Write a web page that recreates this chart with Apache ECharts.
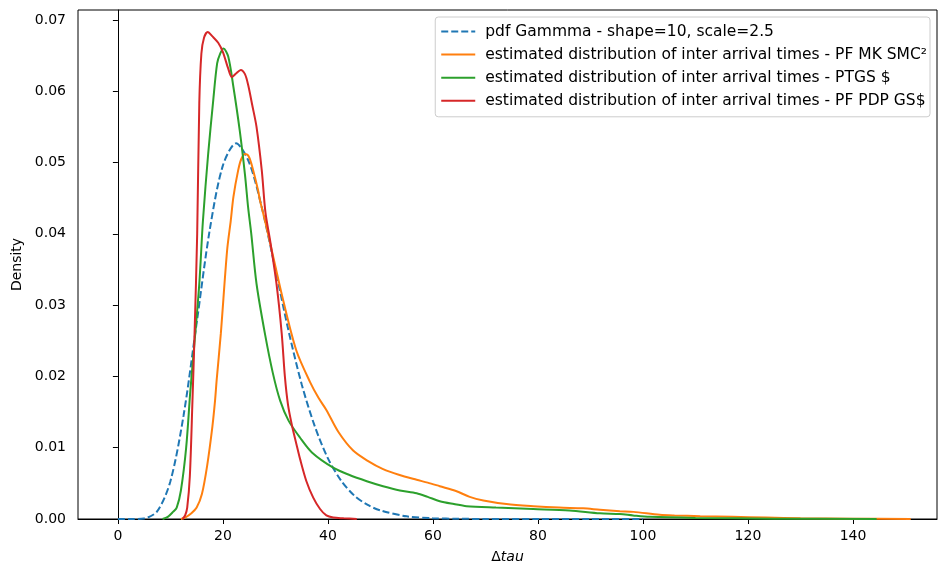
<!DOCTYPE html>
<html>
<head>
<meta charset="utf-8">
<script src="https://cdn.jsdelivr.net/npm/echarts@6/dist/echarts.min.js"></script>
<style>html,body{margin:0;padding:0;background:#fff}#c{width:938px;height:563px}</style>
</head>
<body>
<div id="c"></div>
<script>
const xTicks = [0, 20, 40, 60, 80, 100, 120, 140];
const yTicks = [0, 0.01, 0.02, 0.03, 0.04, 0.05, 0.06, 0.07];
const seriesNames = [
  'pdf Gammma - shape=10, scale=2.5',
  'estimated distribution of inter arrival times - PF MK SMC²',
  'estimated distribution of inter arrival times - PTGS $',
  'estimated distribution of inter arrival times - PF PDP GS$'
];
const gammaPdf = [[0,0],[2.5,0],[5,0.00008],[7.5,0.0011],[10,0.0053],[12.5,0.0145],[15,0.0275],[17.5,0.0406],[20,0.0496],[22.5,0.0527],[25,0.0500],[27.5,0.0434],[30,0.0350],[32.5,0.0264],[35,0.0189],[37.5,0.0130],[40,0.0085],[42.5,0.0054],[45,0.0033],[47.5,0.0020],[50,0.0012],[55,0.00037],[60,0.00011],[65,0.00003],[70,0.00001],[80,0],[90,0],[100,0]];
const pfMkSmc = [[12,0],[12.8,0.0002],[14,0.0008],[15,0.0016],[16,0.0035],[17,0.0075],[18,0.013],[18.5,0.0166],[18.8,0.0194],[19.6,0.026],[20.8,0.0377],[21.5,0.0419],[22.0,0.0452],[22.9,0.0489],[23.5,0.0505],[24.2,0.0512],[24.8,0.0510],[25.4,0.0499],[26.7,0.0461],[27.0,0.0449],[28,0.0419],[29.3,0.0377],[31.5,0.0306],[34,0.0236],[36.6,0.0192],[38.2,0.0170],[39.7,0.0153],[42,0.0122],[44.8,0.0096],[47.5,0.0082],[50.5,0.0070],[53.5,0.0062],[56.9,0.0055],[59,0.0051],[61.3,0.0046],[64.5,0.0039],[67,0.0031],[69.6,0.0026],[74,0.0021],[79.1,0.0018],[84,0.0016],[88.6,0.0015],[91.8,0.0013],[95.6,0.0011],[98.2,0.0010],[103.2,0.0006],[106,0.0005],[110.9,0.0004],[117,0.0003],[123.5,0.0002],[130,0.0001],[140,0.00005],[151,0]];
const ptgs = [[8.5,0],[9.5,0.0003],[10.5,0.001],[11.2,0.0016],[12,0.004],[13,0.010],[13.8,0.018],[14.5,0.024],[15.5,0.033],[16.2,0.0419],[17.2,0.0513],[18.1,0.0583],[18.9,0.0639],[19.5,0.0653],[20.1,0.0660],[21.0,0.0649],[22.0,0.0606],[23.2,0.0545],[24.2,0.0483],[24.8,0.0437],[25.4,0.0400],[26.4,0.0330],[28,0.0260],[29.5,0.0205],[30.9,0.0166],[32.5,0.0138],[34.7,0.0114],[37,0.0093],[41,0.0072],[44,0.0062],[47.4,0.0053],[50.5,0.0046],[53.7,0.0040],[56.9,0.0036],[59,0.0031],[61.3,0.0025],[64,0.0021],[66.4,0.0018],[72,0.0016],[79.1,0.0014],[86,0.0012],[91.8,0.0008],[95.6,0.0007],[98.1,0.0005],[101.3,0.0003],[110,0.00015],[125,0.00005],[144.5,0]];
const pfPdpGs = [[12.3,0],[12.8,0.0005],[13.2,0.0016],[13.7,0.006],[14.2,0.0166],[14.6,0.026],[15.1,0.040],[15.5,0.0583],[15.9,0.0653],[16.4,0.0675],[17.1,0.0683],[18,0.0677],[19.1,0.0668],[20,0.0655],[21,0.0632],[21.7,0.0620],[22.5,0.0625],[23.4,0.0630],[24.2,0.0624],[24.8,0.0609],[25.6,0.0580],[26.4,0.0550],[27.4,0.0489],[28.1,0.0430],[29.0,0.0390],[30.2,0.0330],[31.2,0.0260],[31.8,0.0200],[32.4,0.0160],[33.1,0.0133],[34.0,0.0105],[34.7,0.0084],[35.9,0.0053],[37.2,0.0030],[38.5,0.0014],[39.7,0.0005],[41,0.0002],[43,0.0001],[45.5,0]];
const colors = ['#1f77b4', '#ff7f0e', '#2ca02c', '#d62728'];

const chart = echarts.init(document.getElementById('c'), null, {renderer: 'canvas'});
const font = 'DejaVu Sans';
const fs = 14;
function mk(name, data, color, dashed) {
  return {
    name: name, type: 'line', data: data, smooth: 0.3, symbol: 'none', showSymbol: false,
    lineStyle: {color: color, width: 2, type: dashed ? [7, 3] : 'solid'},
    itemStyle: {color: color}, animation: false, z: 3
  };
}
chart.setOption({
  animation: false,
  grid: {left: 78, right: 1, top: 10, bottom: 44, outerBoundsMode: 'none', containLabel: false, show: true, borderColor: '#000', borderWidth: 1, backgroundColor: 'transparent'},
  legend: {
    right: 8, top: 17, orient: 'vertical', itemWidth: 34, itemHeight: 14, itemGap: 7.1,
    backgroundColor: '#fff', borderColor: '#cccccc', borderWidth: 1, borderRadius: 3,
    padding: [6.5, 3, 8, 5],
    itemStyle: {opacity: 0, color: 'transparent', borderWidth: 0},
    textStyle: {fontFamily: font, fontSize: 15.5, color: '#000', padding: [0, 0, 0, 5]},
    data: seriesNames
  },
  xAxis: {
    type: 'value', min: -7.6, max: 156,
    name: '{a|Δ}{b|tau}', nameLocation: 'middle', nameGap: 31,
    nameTextStyle: {rich: {a: {fontFamily: font, fontSize: fs, color: '#000'}, b: {fontFamily: font, fontSize: fs, fontStyle: 'italic', color: '#000'}}},
    axisLine: {show: true, lineStyle: {color: '#000', width: 1}},
    axisTick: {show: true, inside: false, length: 5, lineStyle: {color: '#000'}, customValues: xTicks},
    axisLabel: {fontFamily: font, fontSize: fs, color: '#000', margin: 10, customValues: xTicks},
    splitLine: {show: false}
  },
  yAxis: {
    type: 'value', min: 0, max: 0.0714,
    name: 'Density', nameLocation: 'middle', nameGap: 52,
    nameTextStyle: {fontFamily: font, fontSize: fs, color: '#000'},
    axisLine: {show: true, lineStyle: {color: '#000', width: 1}},
    axisTick: {show: true, inside: false, length: 5, lineStyle: {color: '#000'}, customValues: yTicks},
    axisLabel: {fontFamily: font, fontSize: fs, color: '#000', margin: 12, customValues: yTicks, formatter: v => v.toFixed(2)},
    splitLine: {show: false}
  },
  series: [
    mk(seriesNames[0], gammaPdf, colors[0], true),
    mk(seriesNames[1], pfMkSmc, colors[1], false),
    mk(seriesNames[2], ptgs, colors[2], false),
    mk(seriesNames[3], pfPdpGs, colors[3], false)
  ]
});
</script>
</body>
</html>
